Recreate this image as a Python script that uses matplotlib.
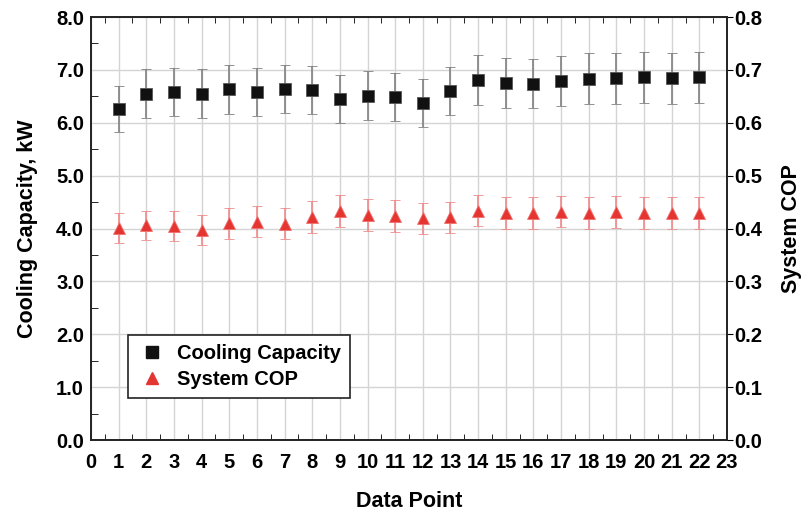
import matplotlib.pyplot as plt
from matplotlib.lines import Line2D
from matplotlib.ticker import MultipleLocator

plt.rcParams['font.family'] = ['Liberation Sans', 'DejaVu Sans']
plt.rcParams['font.weight'] = 'bold'

points = list(range(1, 23))
capacity = [6.26, 6.55, 6.58, 6.55, 6.63, 6.58, 6.64, 6.62, 6.45, 6.51, 6.49,
            6.37, 6.60, 6.81, 6.75, 6.74, 6.79, 6.83, 6.84, 6.86, 6.84, 6.86]
capacity_err = [0.44, 0.46, 0.46, 0.46, 0.46, 0.46, 0.46, 0.46, 0.45, 0.46, 0.45,
                0.45, 0.46, 0.48, 0.47, 0.47, 0.48, 0.48, 0.48, 0.48, 0.48, 0.48]
cop = [0.401, 0.406, 0.405, 0.397, 0.410, 0.413, 0.409, 0.422, 0.433, 0.426, 0.424,
       0.419, 0.421, 0.434, 0.429, 0.430, 0.432, 0.430, 0.431, 0.430, 0.429, 0.430]
cop_err = [0.029, 0.028, 0.028, 0.028, 0.029, 0.029, 0.029, 0.030, 0.030, 0.030, 0.030,
           0.029, 0.029, 0.030, 0.030, 0.030, 0.030, 0.030, 0.030, 0.030, 0.030, 0.030]

fig = plt.figure(figsize=(8.04, 5.17), dpi=100)
ax = fig.add_axes([0.1132, 0.1489, 0.791, 0.8182])
ax2 = ax.twinx()

ax.errorbar(points, capacity, yerr=capacity_err, fmt='s', color='#111111',
            ms=8, mec='#555555', mew=0.6, ecolor='#808080', elinewidth=1.2,
            capsize=3.5, capthick=1.0, zorder=3)
ax2.errorbar(points, cop, yerr=cop_err, fmt='^', color='#e53530',
             ms=9, mec='#f07070', mew=0.6, ecolor='#f08a8a', elinewidth=1.2,
             capsize=3.5, capthick=1.0, zorder=3)

ax.set_xlim(0, 23)
ax.set_ylim(0, 8)
ax2.set_ylim(0, 0.8)
ax.xaxis.set_major_locator(MultipleLocator(1))
ax.xaxis.set_minor_locator(MultipleLocator(0.5))
ax.yaxis.set_major_locator(MultipleLocator(1))
ax.yaxis.set_minor_locator(MultipleLocator(0.5))
ax2.yaxis.set_major_locator(MultipleLocator(0.1))
ax.yaxis.set_major_formatter(plt.FormatStrFormatter('%.1f'))
ax2.yaxis.set_major_formatter(plt.FormatStrFormatter('%.1f'))

ax.grid(True, which='major', color='#d4d4d4', linewidth=1.0)
ax.set_axisbelow(True)

ax.tick_params(axis='both', which='both', direction='in', labelsize=14.5, top=True)
ax.tick_params(axis='x', which='major', length=0, pad=9)
ax.tick_params(axis='x', which='minor', length=4)
ax.tick_params(axis='y', which='major', length=0, pad=5)
ax.tick_params(axis='y', which='minor', length=5)
ax2.tick_params(axis='y', which='major', direction='out', length=4, labelsize=14.5, pad=1)

for spine in list(ax.spines.values()) + list(ax2.spines.values()):
    spine.set_linewidth(1.2)
    spine.set_color('#222222')

ax.set_xlabel('Data Point', fontsize=15.5, fontweight='bold', labelpad=14)
ax.set_ylabel('Cooling Capacity, kW', fontsize=15.5, fontweight='bold', labelpad=13)
ax2.set_ylabel('System COP', fontsize=15.5, fontweight='bold', labelpad=14)

handles = [Line2D([], [], ls='none', marker='s', ms=8, color='#111111'),
           Line2D([], [], ls='none', marker='^', ms=8, color='#e53530')]
leg = ax2.legend(handles, ['Cooling Capacity', 'System COP'], loc='lower left',
                 bbox_to_anchor=(0.058, 0.099), borderaxespad=0,
                 fontsize=14.5, frameon=True, fancybox=False, framealpha=1,
                 edgecolor='#222222', borderpad=0.45, handlelength=1.5,
                 handletextpad=0.5, labelspacing=0.35)
leg.get_frame().set_linewidth(1.2)

fig.savefig('out.png', dpi=100)
